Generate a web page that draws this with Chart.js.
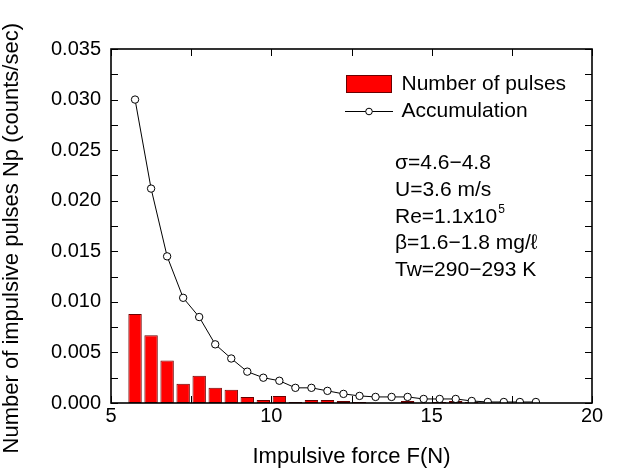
<!DOCTYPE html>
<html>
<head>
<meta charset="utf-8">
<script src="https://cdn.jsdelivr.net/npm/chart.js@4"></script>
<style>
  body { margin: 0; background: #fff; }
  #wrap { width: 619px; height: 470px; }
</style>
</head>
<body>
<div id="wrap"><canvas id="pulseChart"></canvas></div>
<script>
// impulsive force bins (N)
const forceValues = [5.75, 6.25, 6.75, 7.25, 7.75, 8.25, 8.75, 9.25, 9.75, 10.25, 10.75, 11.25, 11.75,
  12.25, 12.75, 13.25, 13.75, 14.25, 14.75, 15.25, 15.75, 16.25, 16.75, 17.25, 17.75, 18.25];
// number of pulses per bin (counts/sec)
const pulseCounts = [0.0088, 0.0067, 0.0042, 0.0019, 0.0027, 0.0015, 0.0013, 0.0006, 0.0003, 0.0007, 0.0001, 0.0003, 0.0003,
  0.0002, 0.0001, 0, 0, 0.0002, 0, 0.0001, 0.0002, 0.0001, 0, 0, 0, 0];
// accumulation (counts/sec)
const accumulation = [0.0300, 0.0212, 0.0145, 0.0104, 0.0085, 0.0058, 0.0044, 0.0031, 0.0025, 0.0022, 0.0015, 0.0015, 0.0012,
  0.0009, 0.0007, 0.0006, 0.0006, 0.0006, 0.0004, 0.0004, 0.0004, 0.0002, 0.0001, 0.0001, 0.0001, 0.0001];

const xTickLabels = [5, 10, 15, 20];
const yTickLabels = [0, 0.005, 0.010, 0.015, 0.020, 0.025, 0.030, 0.035];
const xTickMarks = [5, 7.5, 10, 12.5, 15, 17.5, 20];
const yTickMarks = [0, 0.0025, 0.005, 0.0075, 0.01, 0.0125, 0.015, 0.0175, 0.02, 0.0225, 0.025, 0.0275, 0.03, 0.0325, 0.035];

const notes = ["σ=4.6−4.8", "U=3.6 m/s", "Re=1.1x10", "β=1.6−1.8 mg/ℓ", "Tw=290−293 K"];

const FONT = "'Liberation Sans', Arial, sans-serif";
Chart.defaults.font.family = FONT;
Chart.defaults.color = "#000";

// legend icons
const barIcon = document.createElement("canvas");
barIcon.width = 46; barIcon.height = 18;
let g = barIcon.getContext("2d");
g.fillStyle = "#ff0000";
g.fillRect(0, 0, 46, 18);
g.strokeStyle = "#6b0000";
g.strokeRect(0.5, 0.5, 45, 17);

const lineIcon = document.createElement("canvas");
lineIcon.width = 48; lineIcon.height = 10;
g = lineIcon.getContext("2d");
g.strokeStyle = "#000";
g.beginPath();
g.moveTo(0, 5.5); g.lineTo(48, 5.5);
g.stroke();
g.beginPath();
g.arc(24, 5.5, 3.3, 0, Math.PI * 2);
g.fillStyle = "#fff";
g.fill();
g.stroke();

const legendMover = {
  id: "legendMover",
  afterLayout(chart) {
    const lg = chart.legend;
    lg.left = 341; lg.top = 67.5;
    lg.right = 610; lg.bottom = 160;
    lg.width = lg.right - lg.left; lg.height = lg.bottom - lg.top;
  }
};

const frameTicks = {
  id: "frameTicks",
  afterDraw(chart) {
    const { ctx, chartArea: a, scales: { x, y } } = chart;
    ctx.save();
    ctx.strokeStyle = "#000";
    ctx.lineWidth = 1;
    ctx.beginPath();
    for (const v of xTickMarks) {
      const px = Math.round(x.getPixelForValue(v)) + 0.5;
      ctx.moveTo(px, a.bottom); ctx.lineTo(px, a.bottom - 7);
      ctx.moveTo(px, a.top); ctx.lineTo(px, a.top + 7);
    }
    for (const v of yTickMarks) {
      const py = Math.round(y.getPixelForValue(v)) + 0.5;
      ctx.moveTo(a.left, py); ctx.lineTo(a.left + 7, py);
      ctx.moveTo(a.right, py); ctx.lineTo(a.right - 7, py);
    }
    ctx.stroke();
    ctx.lineWidth = 1.6;
    ctx.strokeRect(a.left, a.top, a.width, a.height);

    // condition notes
    ctx.fillStyle = "#000";
    ctx.textBaseline = "alphabetic";
    const nx = 395;
    notes.forEach((t, i) => {
      const by = 169 + i * 26.75;
      ctx.font = "21px " + FONT;
      ctx.fillText(t, nx, by);
      if (i === 2) {
        const w = ctx.measureText(t).width;
        ctx.font = "12px " + FONT;
        ctx.fillText("5", nx + w + 1, by - 10);
      }
    });
    ctx.restore();
  }
};

new Chart(document.getElementById("pulseChart"), {
  type: "bar",
  data: {
    datasets: [{
      label: "Number of pulses",
      data: forceValues.map((f, i) => ({ x: f, y: pulseCounts[i] })),
      backgroundColor: "#ff0000",
      borderColor: "#6b0000",
      borderWidth: 1,
      borderSkipped: false,
      barPercentage: 0.9,
      categoryPercentage: 0.93,
      order: 1
    }, {
      type: "line",
      label: "Accumulation",
      data: forceValues.map((f, i) => ({ x: f, y: accumulation[i] })),
      borderColor: "#000",
      borderWidth: 1,
      pointRadius: 3.7,
      pointBackgroundColor: "#fff",
      pointBorderColor: "#000",
      pointBorderWidth: 1,
      tension: 0,
      order: 0
    }]
  },
  options: {
    responsive: true,
    maintainAspectRatio: false,
    animation: false,
    layout: { padding: { top: 49, right: 27, left: 0, bottom: 0 } },
    plugins: {
      tooltip: { enabled: false },
      legend: {
        position: "chartArea",
        align: "start",
        labels: {
          usePointStyle: true,
          pointStyleWidth: 44,
          padding: 6,
          color: "#000",
          font: { size: 21 },
          sort: (a, b) => a.datasetIndex - b.datasetIndex,
          generateLabels: chart => {
            const items = Chart.defaults.plugins.legend.labels.generateLabels(chart);
            items.forEach(it => { it.pointStyle = it.datasetIndex === 0 ? barIcon : lineIcon; });
            return items;
          }
        }
      }
    },
    scales: {
      x: {
        type: "linear",
        offset: false,
        min: 5,
        max: 20,
        grid: { display: false, drawTicks: false, offset: false },
        border: { display: false },
        afterBuildTicks: s => { s.ticks = xTickLabels.map(v => ({ value: v })); },
        afterFit: s => { s.height = 67; },
        ticks: { padding: 1, font: { size: 20 }, color: "#000", maxRotation: 0 },
        title: { display: true, text: "Impulsive force F(N)", font: { size: 22 }, color: "#000", padding: { top: 0, bottom: 0 } }
      },
      y: {
        min: 0,
        max: 0.035,
        grid: { display: false, drawTicks: false },
        border: { display: false },
        afterBuildTicks: s => { s.ticks = yTickLabels.map(v => ({ value: v })); },
        afterFit: s => { s.width = 111; },
        ticks: { padding: 10, font: { size: 20 }, color: "#000", callback: v => v.toFixed(3) },
        // trailing spaces push the visible text a little lower, as in the original
        title: { display: true, text: "Number of impulsive pulses Np (counts/sec)    ", font: { size: 22 }, color: "#000", padding: { top: -1, bottom: 0 } }
      }
    }
  },
  plugins: [legendMover, frameTicks]
});
</script>
</body>
</html>
